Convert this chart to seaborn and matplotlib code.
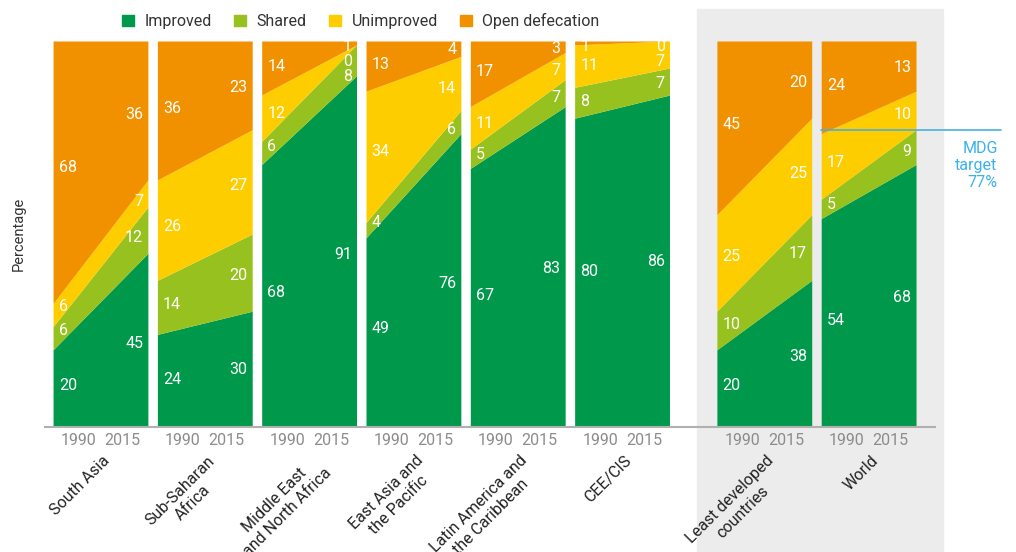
import matplotlib.pyplot as plt
import matplotlib.patches as mpatches
import numpy as np
import seaborn as sns

# data: share of population by sanitation type, 1990 and 2015
regions = ["South Asia", "Sub-Saharan\nAfrica", "Middle East\nand North Africa",
           "East Asia and\nthe Pacific", "Latin America and\nthe Caribbean", "CEE/CIS",
           "Least developed\ncountries", "World"]
categories = ["Improved", "Shared", "Unimproved", "Open defecation"]
years = ["1990", "2015"]

improved_1990 = [20, 24, 68, 49, 67, 80, 20, 54]
improved_2015 = [45, 30, 91, 76, 83, 86, 38, 68]
shared_1990 = [6, 14, 6, 4, 5, 8, 10, 5]
shared_2015 = [12, 20, 8, 6, 7, 7, 17, 9]
unimproved_1990 = [6, 26, 12, 34, 11, 11, 25, 17]
unimproved_2015 = [7, 27, 0, 14, 7, 7, 25, 10]
opendef_1990 = [68, 36, 14, 13, 17, 1, 45, 24]
opendef_2015 = [36, 23, 1, 4, 3, 0, 20, 13]

mdg_target = 77

colors = ["#00984a", "#97c11f", "#fecd00", "#f29100"]

sns.set_theme(style="white")
plt.rcParams["font.family"] = ["Roboto", "DejaVu Sans"]

fig = plt.figure(figsize=(10.16, 5.52), dpi=100)
ax = fig.add_axes([45 / 1016, 125 / 552, 890 / 1016, 386 / 552])
ax.set_facecolor("none")
ax.set_zorder(2)

# grey box behind the two aggregate panels
fig.patches.append(mpatches.Rectangle((697 / 1016, 0), 246 / 1016, 543 / 552,
                                      transform=fig.transFigure, color="#ececec", zorder=0))

starts = [i * 1.1 for i in range(6)] + [7.0, 8.1]
v1990 = np.array([improved_1990, shared_1990, unimproved_1990, opendef_1990])
v2015 = np.array([improved_2015, shared_2015, unimproved_2015, opendef_2015])

tick_pos, tick_lab = [], []
for i, x0 in enumerate(starts):
    lo = np.vstack([np.zeros(2), np.cumsum(np.c_[v1990[:, i], v2015[:, i]], axis=0)])
    for k in range(4):
        ax.fill_between([x0, x0 + 1], lo[k], lo[k + 1], color=colors[k], lw=0)

    # value labels, spread out where bands are thin
    for frac, col, xt, ha in [(0.07, 0, x0 + 0.06, "left"), (0.93, 1, x0 + 0.95, "right")]:
        mids = [(lo[k, 0] + lo[k + 1, 0]) / 2 * (1 - frac) +
                (lo[k, 1] + lo[k + 1, 1]) / 2 * frac for k in range(4)]
        pos = [0] * 4
        prev = 102.5
        for k in range(3, -1, -1):
            pos[k] = min(mids[k], prev - 3.8, 98.5)
            prev = pos[k]
        vals = v1990[:, i] if col == 0 else v2015[:, i]
        for k in range(4):
            ax.text(xt, pos[k], str(vals[k]), color="white", fontsize=11.5,
                    ha=ha, va="center")

    tick_pos += [x0 + 0.27, x0 + 0.73]
    tick_lab += years
    ax.annotate(regions[i], xy=(x0 + 0.52, 0), xycoords=("data", "axes fraction"),
                xytext=(0, -26), textcoords="offset pixels", rotation=45,
                rotation_mode="anchor", ha="right", va="top", multialignment="center",
                fontsize=11.5, color="#222222")

ax.set_xlim(-0.085, 9.3)
ax.set_ylim(0, 100)
ax.set_xticks(tick_pos, tick_lab)
ax.tick_params(axis="x", length=0, pad=4, labelsize=11.5, labelcolor="#8c8c8c")
ax.set_yticks([])
sns.despine(ax=ax, left=True)
ax.spines["bottom"].set_color("#b0b0b0")
ax.spines["bottom"].set_linewidth(1.5)
ax.set_ylabel("Percentage", fontsize=10.5, color="#333333", labelpad=14)

# MDG target line for World
ax.plot([starts[-1], 10.0], [mdg_target, mdg_target], color="#4aaedc", lw=1.2,
        clip_on=False, zorder=5)
ax.text(9.96, 74, "MDG\ntarget\n77%", color="#3ab2ea", fontsize=11.5, ha="right",
        va="top", multialignment="right", linespacing=1.15)

handles = [mpatches.Patch(color=c, label=l) for c, l in zip(colors, categories)]
fig.legend(handles=handles, loc="center", bbox_to_anchor=(361 / 1016, 1 - 21 / 552),
           ncol=4, frameon=False, fontsize=11.5, handlelength=0.75, handleheight=0.75,
           columnspacing=1.4, handletextpad=0.65, labelcolor="#333333")

fig.savefig("out.png", dpi=100)
